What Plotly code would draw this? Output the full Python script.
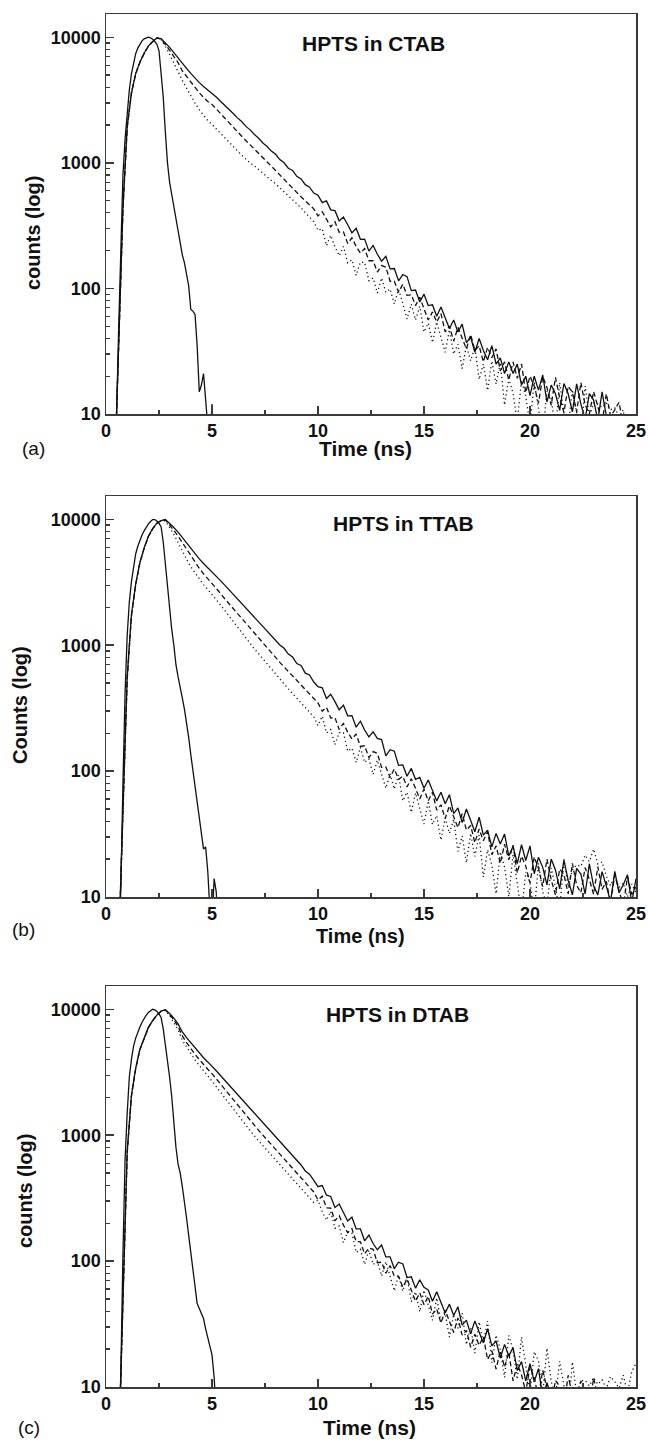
import plotly.graph_objects as go

# ---------------- data ----------------
T_DECAY = [
    0.4, 0.6, 0.8, 1.0, 1.2, 1.4, 1.6, 1.8, 2.0, 2.2,
    2.4, 2.6, 2.8, 3.0, 3.2, 3.4, 3.6, 3.8, 4.0, 4.2,
    4.4, 4.6, 4.8, 5.0, 5.2, 5.4, 5.6, 5.8, 6.0, 6.2,
    6.4, 6.6, 6.8, 7.0, 7.2, 7.4, 7.6, 7.8, 8.0, 8.2,
    8.4, 8.6, 8.8, 9.0, 9.2, 9.4, 9.6, 9.8, 10.0, 10.2,
    10.4, 10.6, 10.8, 11.0, 11.2, 11.4, 11.6, 11.8, 12.0, 12.2,
    12.4, 12.6, 12.8, 13.0, 13.2, 13.4, 13.6, 13.8, 14.0, 14.2,
    14.4, 14.6, 14.8, 15.0, 15.2, 15.4, 15.6, 15.8, 16.0, 16.2,
    16.4, 16.6, 16.8, 17.0, 17.2, 17.4, 17.6, 17.8, 18.0, 18.2,
    18.4, 18.6, 18.8, 19.0, 19.2, 19.4, 19.6, 19.8, 20.0, 20.2,
    20.4, 20.6, 20.8, 21.0, 21.2, 21.4, 21.6, 21.8, 22.0, 22.2,
    22.4, 22.6, 22.8, 23.0, 23.2, 23.4, 23.6, 23.8, 24.0, 24.2,
    24.4, 24.6, 24.8, 25.0,
]

T_IRF_A = [
    0.3, 0.4, 0.5, 0.6, 0.7, 0.8, 0.9, 1.0, 1.1, 1.2,
    1.3, 1.4, 1.5, 1.6, 1.7, 1.8, 1.9, 2.0, 2.1, 2.2,
    2.3, 2.4, 2.5, 2.6, 2.7, 2.8, 2.9, 3.0, 3.1, 3.2,
    3.3, 3.4, 3.5, 3.6, 3.7, 3.8, 3.9, 4.0, 4.1, 4.2,
    4.3, 4.4, 4.5, 4.6, 4.7, 4.8, 4.9, 5.0, 5.1,
]
T_IRF_BC = [
    0.5, 0.6, 0.7, 0.8, 0.9, 1.0, 1.1, 1.2, 1.3, 1.4,
    1.5, 1.6, 1.7, 1.8, 1.9, 2.0, 2.1, 2.2, 2.3, 2.4,
    2.5, 2.6, 2.7, 2.8, 2.9, 3.0, 3.1, 3.2, 3.3, 3.4,
    3.5, 3.6, 3.7, 3.8, 3.9, 4.0, 4.1, 4.2, 4.3, 4.4,
    4.5, 4.6, 4.7, 4.8, 4.9, 5.0, 5.1, 5.2, 5.3,
]

# ---- panel (a) HPTS in CTAB ----
IRF_A = [
    1, 3, 10, 50, 190, 800, 1550, 2500, 3800, 5100,
    6200, 7400, 8200, 8800, 9350, 9700, 9920, 10000, 9900, 9650,
    9250, 8800, 7800, 5400, 3350, 1750, 1000, 700, 560, 450,
    370, 300, 235, 185, 160, 130, 105, 68, 66, 62,
    35, 15, 17, 21, 12, 8, 6, 12, 5,
]
SOLID_A = [
    3, 34, 440, 1940, 3610, 5130, 6340, 7460, 8510, 9250,
    9870, 9750, 9050, 8300, 7550, 6900, 6200, 5650, 5150, 4700,
    4350, 4050, 3800, 3600, 3340, 3090, 2880, 2650, 2470, 2280,
    2130, 1950, 1830, 1680, 1570, 1440, 1350, 1240, 1170, 1060,
    1000, 905, 870, 780, 745, 670, 640, 575, 552, 482,
    498, 422, 416, 345, 370, 321, 277, 301, 246, 247,
    198, 220, 187, 165, 180, 143, 144, 115, 129, 124,
    96, 97, 78, 90, 73, 74, 60, 71, 58, 48,
    56, 45, 52, 37, 41, 31, 40, 32, 27, 35,
    25, 28, 21, 26, 21, 25, 17, 20, 14, 20,
    15.5, 20.5, 12.5, 17, 14.5, 10.7, 17.5, 14.5, 10.4, 17.4,
    12, 9.1, 14.5, 12.9, 8.9, 15, 9.7, 6, 5, 4,
    4, 4, 4, 4,
]
DASH_A = [
    3, 33, 420, 1900, 3560, 5080, 6300, 7420, 8480, 9230,
    9870, 9650, 8780, 7890, 7020, 6280, 5390, 4860, 4380, 3950,
    3610, 3320, 3080, 2920, 2680, 2460, 2260, 2070, 1900, 1760,
    1630, 1500, 1390, 1280, 1190, 1100, 1015, 940, 866, 800,
    740, 680, 625, 577, 536, 498, 463, 430, 378, 408,
    356, 309, 339, 280, 282, 228, 253, 216, 191, 208,
    166, 166, 135, 152, 148, 114, 114, 93, 108, 88,
    89, 73, 85, 69, 56, 65, 54, 63, 45, 50,
    38, 49, 40, 33, 43, 32, 35, 26, 34, 28,
    33, 22, 26, 18.6, 26, 19.2, 25, 14.8, 20, 16.6,
    12.2, 19.8, 16.3, 11.7, 19.6, 13.5, 10.3, 16.6, 14.9, 10.4,
    17.8, 11.8, 10, 15.1, 11.5, 8.5, 14.5, 9.6, 10.8, 12.4,
    8, 6, 5, 5,
]
DOT_A = [
    3, 35, 460, 1980, 3650, 5160, 6370, 7480, 8530, 9260,
    9870, 9550, 8510, 7300, 6190, 5350, 4530, 3930, 3400, 2990,
    2650, 2400, 2170, 2020, 1860, 1720, 1590, 1460, 1330, 1240,
    1150, 1070, 995, 945, 880, 820, 770, 723, 681, 634,
    590, 550, 510, 475, 438, 402, 370, 340, 289, 299,
    219, 264, 214, 182, 216, 160, 169, 127, 162, 161,
    115, 121, 92, 121, 93, 99, 75, 98, 76, 57,
    75, 56, 72, 45, 53, 37, 54, 41, 31, 47,
    30, 36, 23, 35, 26.5, 34, 18.8, 25, 15.4, 26.4,
    17.3, 25.7, 11.8, 19.2, 14.6, 8.7, 18.5, 13.9, 8.1, 18,
    10.6, 6.8, 15.2, 13.2, 7.5, 17.8, 10.1, 7.9, 15.6, 10.8,
    6.8, 16.7, 9.5, 12.3, 12, 11.3, 12.3, 10.8, 11.2, 9.5,
    10.8, 6, 5, 5,
]

# ---- panel (b) HPTS in TTAB ----
IRF_B = [
    1, 3, 12, 80, 420, 1200, 2200, 3200, 4300, 5300,
    6100, 6900, 7500, 8100, 8700, 9200, 9600, 9950, 9950, 9700,
    9300, 8700, 6600, 4300, 2900, 1950, 1340, 1000, 700, 560,
    470, 380, 310, 245, 185, 135, 100, 78, 60, 40,
    30, 24, 25, 16, 8, 6, 14, 11, 5,
]
SOLID_B = [
    1, 4, 49, 560, 1750, 3060, 4560, 5930, 7330, 8430,
    9320, 9770, 9950, 9300, 8600, 7900, 7150, 6500, 5850, 5300,
    4850, 4450, 4130, 3850, 3540, 3260, 3000, 2760, 2540, 2330,
    2150, 1975, 1820, 1670, 1540, 1415, 1300, 1200, 1110, 1005,
    945, 850, 805, 715, 690, 600, 580, 510, 469, 459,
    377, 408, 356, 307, 334, 275, 276, 223, 249, 212,
    187, 205, 182, 178, 132, 148, 144, 111, 112, 91,
    105, 86, 89, 73, 85, 71, 58, 68, 55, 65,
    46, 51, 39, 50, 40, 33, 43, 31, 34, 25,
    32, 26.4, 31.6, 21.2, 25.3, 18.4, 26, 19.5, 25.5, 15.3,
    20.7, 17.2, 12.5, 20, 16.4, 11.6, 19.6, 13.6, 10.4, 16.9,
    15.2, 10.6, 18.3, 12.2, 10.4, 15.9, 12.2, 9.2, 16, 10.8,
    12.5, 15, 9, 14,
]
DASH_B = [
    1, 4, 48, 540, 1720, 3020, 4520, 5900, 7300, 8400,
    9300, 9760, 9880, 9020, 8170, 7350, 6510, 5790, 5150, 4560,
    4080, 3690, 3390, 3120, 2830, 2580, 2340, 2140, 1960, 1780,
    1620, 1480, 1350, 1240, 1130, 1030, 940, 865, 792, 731,
    672, 618, 569, 523, 481, 443, 408, 374, 348, 299,
    321, 264, 266, 214, 239, 204, 180, 197, 157, 159,
    128, 143, 138, 107, 108, 89, 104, 86, 91, 75,
    87, 73, 60, 72, 58, 68, 49, 54, 42, 53,
    43, 35.5, 46, 34, 37, 27, 34.7, 28, 33, 21.7,
    25.5, 18.5, 26.3, 19.7, 25.8, 15.5, 21.1, 17.6, 12.9, 20.8,
    16.9, 12.1, 20, 13.7, 10.4, 16.7, 15.1, 10.6, 18.5, 12.4,
    10.8, 17.1, 13.8, 10.5, 17.4, 11.5, 13.3, 9, 15, 11,
    8.5, 14.5, 10.5, 12,
]
DOT_B = [
    1, 4, 47, 530, 1700, 3000, 4500, 5880, 7280, 8380,
    9290, 9740, 9700, 8650, 7570, 6560, 5580, 4810, 4190, 3730,
    3350, 3030, 2770, 2540, 2300, 2090, 1890, 1710, 1520, 1380,
    1260, 1140, 1030, 935, 855, 780, 705, 650, 583, 536,
    492, 450, 413, 378, 347, 320, 294, 270, 230, 273,
    201, 214, 162, 202, 202, 144, 152, 117, 154, 117,
    125, 94, 122, 96, 73, 95, 72, 93, 58, 68,
    47, 67, 50.5, 38, 58, 37.6, 44.4, 28.3, 42.4, 32,
    41.5, 23, 30.5, 18.7, 32, 21, 31, 14.4, 23.7, 17.9,
    10.6, 22.8, 17.3, 10.1, 21.7, 12.3, 7.5, 15.8, 13.1, 7.5,
    18.6, 11, 8.6, 17, 12, 7.7, 20, 12, 16.4, 18,
    17.5, 21.5, 19.1, 24, 18.3, 19, 14.7, 12.3, 14.8, 11.9,
    12.9, 10, 12.7, 10.8,
]

# ---- panel (c) HPTS in DTAB ----
IRF_C = [
    1, 3, 13, 115, 640, 1500, 2900, 4000, 5100, 5900,
    6650, 7240, 7900, 8500, 9000, 9450, 9800, 10000, 9900, 9650,
    9200, 8600, 7000, 5300, 4000, 2900, 2030, 1250, 800, 590,
    500, 390, 300, 220, 160, 118, 88, 64, 46, 42,
    38, 35, 29, 25, 21, 18, 12, 6, 3,
]
SOLID_C = [
    1, 3, 49, 740, 2070, 3400, 4810, 5970, 7180, 8130,
    8990, 9660, 9900, 9250, 8500, 7650, 6600, 5950, 5400, 4900,
    4500, 4120, 3820, 3540, 3246, 2977, 2730, 2503, 2295, 2105,
    1930, 1770, 1623, 1488, 1365, 1251, 1148, 1052, 965, 885,
    812, 744, 690, 620, 580, 520, 490, 438, 390, 398,
    334, 326, 267, 284, 243, 208, 223, 180, 180, 145,
    161, 138, 123, 134, 108, 108, 87, 98, 95, 74,
    75, 61, 71, 62, 59, 48, 57, 47, 38.7, 45.5,
    37, 43.4, 31, 34, 26.4, 33.5, 27.3, 22.4, 29, 21.2,
    23.2, 17, 21.8, 17.6, 20.6, 13.5, 15.9, 11.2, 15.3, 11,
    14, 8.2, 10.8, 8.5, 6, 5, 4, 4, 4, 4,
    4, 4, 4, 4, 4, 4, 4, 4, 4, 4,
    4, 4, 4, 4,
]
DASH_C = [
    1, 3, 47, 720, 2040, 3370, 4780, 5940, 7150, 8100,
    8970, 9650, 9880, 9110, 8250, 7270, 6140, 5440, 4860, 4380,
    3990, 3630, 3340, 3080, 2800, 2540, 2310, 2100, 1905, 1735,
    1580, 1437, 1308, 1190, 1092, 1001, 918, 842, 772, 708,
    650, 595, 546, 501, 459, 421, 386, 354, 306, 328,
    265, 263, 209, 229, 193, 168, 181, 143, 142, 114,
    127, 124, 97, 98, 80, 92, 76, 76, 62, 72,
    59, 48, 56, 45, 52.7, 37.9, 41.7, 32.2, 40.8, 33.1,
    27.1, 35.3, 25.8, 28.2, 20.7, 26.3, 21.4, 25.1, 16.5, 19.4,
    13.9, 19.4, 14.4, 18.9, 11.2, 15.2, 12.5, 9.1, 14.6, 11.8,
    8.3, 13.6, 9.3, 7, 11.3, 10.1, 7, 12.4, 8.4, 7.2,
    11.2, 8.7, 6.7, 11.8, 8, 6, 5, 4, 4, 4,
    4, 4, 4, 4,
]
DOT_C = [
    1, 3, 52, 760, 2100, 3430, 4840, 6000, 7200, 8150,
    9000, 9670, 9800, 8930, 7900, 6850, 5680, 5000, 4430, 3960,
    3580, 3230, 2950, 2690, 2430, 2190, 1980, 1780, 1610, 1460,
    1320, 1200, 1085, 982, 901, 826, 758, 694, 637, 584,
    536, 491, 450, 413, 379, 347, 318, 292, 304, 247,
    211, 248, 182, 190, 140, 170, 167, 117, 124, 94,
    122, 94, 100, 76, 99, 77, 58, 77, 57.7, 75,
    47.6, 57, 39.6, 58.8, 44.7, 33.9, 51, 33, 38.4, 24.9,
    37.8, 29.3, 38.7, 21.7, 29.8, 18.6, 32.9, 22.2, 33.3, 15.6,
    25.8, 19.8, 11.9, 25.7, 19.7, 11.5, 25, 14.4, 8.9, 19.1,
    16.1, 8.8, 20.3, 11.1, 8.3, 16, 10.7, 6.5, 15.8, 8.8,
    11.2, 11.3, 10.2, 11.9, 10.5, 11.4, 9.7, 12.1, 11, 9.8,
    12.4, 9, 13.2, 15.5,
]

PANEL_TITLES = ["HPTS in CTAB", "HPTS in TTAB", "HPTS in DTAB"]
Y_TITLES = ["counts (log)", "Counts (log)", "counts (log)"]
X_TITLE = "Time (ns)"
PANEL_LETTERS = ["(a)", "(b)", "(c)"]
X_TICKS = [0, 5, 10, 15, 20, 25]
X_MINOR = [2.5, 7.5, 12.5, 17.5, 22.5]
Y_TICKS = [10, 100, 1000, 10000]
Y_TICK_TEXT = ["10", "100", "1000", "10000"]
Y_MINOR = [20, 30, 40, 50, 60, 70, 80, 90,
           200, 300, 400, 500, 600, 700, 800, 900,
           2000, 3000, 4000, 5000, 6000, 7000, 8000, 9000]

SERIES = [
    (IRF_A, SOLID_A, DASH_A, DOT_A, T_IRF_A),
    (IRF_B, SOLID_B, DASH_B, DOT_B, T_IRF_BC),
    (IRF_C, SOLID_C, DASH_C, DOT_C, T_IRF_BC),
]
for irf, s, d, o, ti in SERIES:
    assert len(irf) == len(ti), (len(irf), len(ti))
    for arr in (s, d, o):
        assert len(arr) == len(T_DECAY), len(arr)

# ---------------- layout (pixel geometry) ----------------
W, H = 648, 1450
X_LEFT, X_RIGHT = 106, 636
PANELS_PX = [  # top, bottom of plot frame
    (14, 414),
    (496, 897),
    (986, 1387),
]
Y_TITLE_POS = [(33, 233), (20, 705), (25, 1191)]
X_TITLE_POS = [(366, 448), (360, 936), (369, 1427)]
P_TITLE_POS = [(373, 43), (403, 523), (398, 1015)]
LETTER_POS = [(33, 448), (23, 930), (29, 1427)]
X_TITLE_SIZE = [21, 20, 21]

FONT = "Liberation Sans, Arial, Helvetica, sans-serif"
INK = "#111111"
FRAME = "#3a3a3a"

fig = go.Figure()

def px_x(x):
    return x / W

def px_y(y):
    return 1 - y / H

for i, (irf, s, d, o, ti) in enumerate(SERIES):
    n = "" if i == 0 else str(i + 1)
    xa, ya = "x" + n, "y" + n
    common = dict(xaxis=xa, yaxis=ya, mode="lines", showlegend=False,
                  hoverinfo="skip")
    fig.add_trace(go.Scatter(x=ti, y=irf, line=dict(color=INK, width=1.3), **common))
    fig.add_trace(go.Scatter(x=T_DECAY, y=o, line=dict(color=INK, width=1.3, dash="1.2px,3px"), **common))
    fig.add_trace(go.Scatter(x=T_DECAY, y=d, line=dict(color=INK, width=1.3, dash="5px,3px"), **common))
    fig.add_trace(go.Scatter(x=T_DECAY, y=s, line=dict(color=INK, width=1.3), **common))

    top, bot = PANELS_PX[i]
    xkey = "xaxis" + n
    ykey = "yaxis" + n
    fig.update_layout(**{
        xkey: dict(
            domain=[px_x(X_LEFT), px_x(X_RIGHT)], anchor=ya, range=[0, 25],
            tickmode="array", tickvals=X_TICKS, ticks="inside", ticklen=8,
            tickwidth=1.4, tickcolor=FRAME,
            minor=dict(tickmode="array", tickvals=X_MINOR, ticks="inside",
                       ticklen=4, tickwidth=1.2, tickcolor=FRAME, showgrid=False),
            showline=True, linecolor=FRAME, linewidth=1.5, mirror=True,
            showgrid=False, zeroline=False, automargin=False,
            tickfont=dict(family=FONT, size=18, color=INK, weight="bold"),
        ),
        ykey: dict(
            domain=[px_y(bot), px_y(top)], anchor=xa, type="log",
            range=[1, 4.185],
            tickmode="array", tickvals=Y_TICKS, ticktext=Y_TICK_TEXT,
            ticks="inside", ticklen=8, tickwidth=1.4, tickcolor=FRAME,
            minor=dict(tickmode="array", tickvals=Y_MINOR, ticks="inside",
                       ticklen=4, tickwidth=1.2, tickcolor=FRAME, showgrid=False),
            showline=True, linecolor=FRAME, linewidth=1.5, mirror=True,
            showgrid=False, zeroline=False, automargin=False,
            tickfont=dict(family=FONT, size=18, color=INK, weight="bold"),
        ),
    })

annotations = []
for i in range(3):
    yx, yy = Y_TITLE_POS[i]
    annotations.append(dict(x=px_x(yx), y=px_y(yy), xref="paper", yref="paper",
                            text="<b>%s</b>" % Y_TITLES[i], textangle=-90,
                            showarrow=False, xanchor="center", yanchor="middle",
                            font=dict(family=FONT, size=20, color=INK)))
    tx, ty = X_TITLE_POS[i]
    annotations.append(dict(x=px_x(tx), y=px_y(ty), xref="paper", yref="paper",
                            text="<b>%s</b>" % X_TITLE, showarrow=False,
                            xanchor="center", yanchor="middle",
                            font=dict(family=FONT, size=X_TITLE_SIZE[i], color=INK)))
    px_, py_ = P_TITLE_POS[i]
    annotations.append(dict(x=px_x(px_), y=px_y(py_), xref="paper", yref="paper",
                            text="<b>%s</b>" % PANEL_TITLES[i], showarrow=False,
                            xanchor="center", yanchor="middle",
                            font=dict(family=FONT, size=21, color=INK)))
    lx, ly = LETTER_POS[i]
    annotations.append(dict(x=px_x(lx), y=px_y(ly), xref="paper", yref="paper",
                            text=PANEL_LETTERS[i], showarrow=False,
                            xanchor="center", yanchor="middle",
                            font=dict(family=FONT, size=19, color=INK)))

fig.update_layout(
    width=W, height=H,
    margin=dict(l=0, r=0, t=0, b=0),
    paper_bgcolor="white", plot_bgcolor="white",
    annotations=annotations,
    showlegend=False,
)

fig.write_html(
    "out.html",
    config={"displayModeBar": False, "staticPlot": True},
    post_script="document.body.style.margin='0px';document.body.style.padding='0px';document.body.style.overflow='hidden';",
)
